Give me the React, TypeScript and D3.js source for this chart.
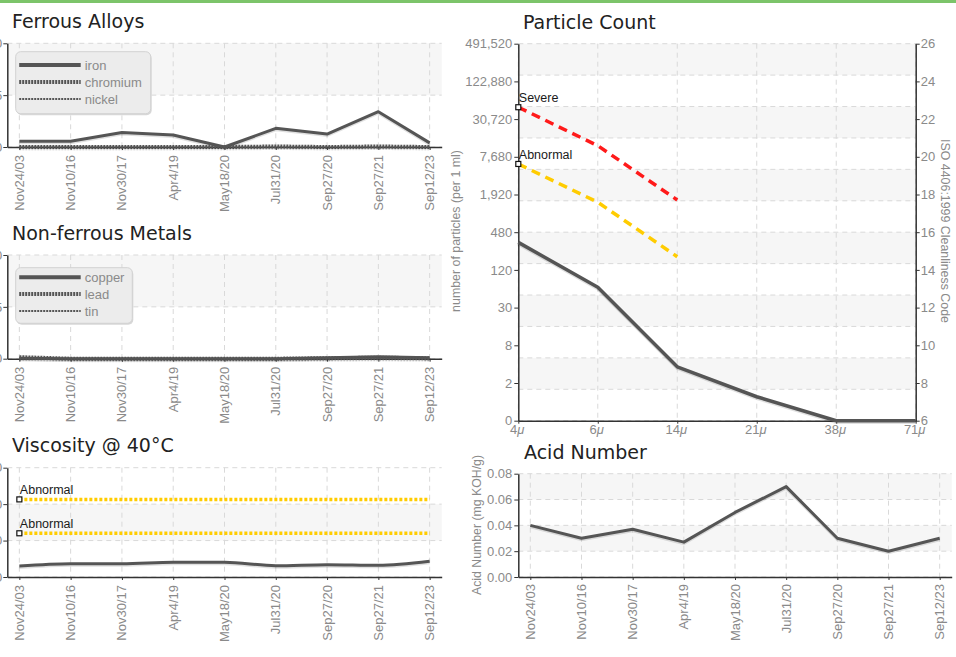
import React, { useEffect, useRef } from 'react'
import * as d3 from 'd3'

// sample dates shared by the trend charts
const dates = ["Nov24/03", "Nov10/16", "Nov30/17", "Apr4/19", "May18/20", "Jul31/20", "Sep27/20", "Sep27/21", "Sep12/23"]

// Ferrous Alloys
const iron = [0.55, 0.55, 1.4, 1.15, 0, 1.8, 1.25, 3.4, 0.4]
const chromium = [0, 0, 0, 0, 0, 0.05, 0, 0.05, 0]
const nickel = [0, 0, 0, 0, 0, 0, 0, 0, 0]

// Non-ferrous Metals
const copper = [0.05, 0, 0, 0, 0, 0, 0.1, 0.2, 0.1]
const lead = [0.15, 0, 0, 0, 0, 0, 0.05, 0.1, 0.05]
const tin = [0, 0, 0, 0, 0, 0, 0, 0, 0]

// Viscosity @ 40C
const viscosity = [15, 18.3, 18.3, 20.2, 20.2, 15.5, 16.9, 16, 21.5]
const viscosityLimits = [106.5, 60]

// Particle Count (values as ISO 4406 codes)
const sizes = ["4", "6", "14", "21", "38", "71"]
const particleCodes = [15.46, 13.08, 8.86, 7.27, 6, 6]
const severeCodes = [22.63, 20.59, 17.71]
const abnormalCodes = [19.62, 17.59, 14.7]
const isoCodes = [6, 8, 10, 12, 14, 16, 18, 20, 22, 24, 26]
const countLabels = ["0", "2", "8", "30", "120", "480", "1,920", "7,680", "30,720", "122,880", "491,520"]

// Acid Number
const acid = [0.04, 0.03, 0.037, 0.027, 0.05, 0.07, 0.03, 0.02, 0.03]
const acidTicks = [0, 0.02, 0.04, 0.06, 0.08]

const FONT = "'Liberation Sans', Arial, sans-serif"
const TITLE_FONT = "'DejaVu Sans', Verdana, sans-serif"
const GRAY = "#8a8a8a"
const DARK = "#555"
const AXIS = "#333"
const BAND = "#f6f6f6"
const GRID = "#d9d9d9"

function bands(g: any, ys: number[], x0: number, x1: number) {
    // ys sorted from bottom to top, every second band is shaded
    for (let i = 0; i < ys.length - 1; i++) {
        if (i % 2 === 1) {
            g.append("rect").attr("x", x0).attr("y", ys[i + 1]).attr("width", x1 - x0)
                .attr("height", ys[i] - ys[i + 1]).attr("fill", BAND)
        }
    }
    ys.forEach(y => {
        g.append("line").attr("x1", x0).attr("x2", x1).attr("y1", y).attr("y2", y)
            .attr("stroke", GRID).attr("stroke-dasharray", "5,4")
    })
}

function vgrid(g: any, xs: number[], y0: number, y1: number) {
    xs.forEach(x => {
        g.append("line").attr("x1", x).attr("x2", x).attr("y1", y0).attr("y2", y1)
            .attr("stroke", GRID).attr("stroke-dasharray", "5,4")
    })
}

function styleAxis(a: any) {
    a.select(".domain").attr("stroke", AXIS).attr("stroke-width", 1.5)
    a.selectAll(".tick line").attr("stroke", AXIS)
    a.selectAll("text").attr("fill", GRAY).style("font", "13px " + FONT)
}

function title(svg: any, x: number, y: number, t: string) {
    svg.append("text").attr("x", x).attr("y", y).text(t)
        .attr("fill", "#222").style("font", "19px " + TITLE_FONT)
}

function dateChart(svg: any, left: number, right: number, top: number, bottom: number, domain: number[], ticks: number[]) {
    const g = svg.append("g")
    const x = d3.scalePoint<string>().domain(dates).range([left, right]).padding(0.235)
    const y = d3.scaleLinear().domain(domain).range([bottom, top])
    bands(g, ticks.map(t => y(t)), left, right)
    vgrid(g, dates.map(d => x(d)!), top, bottom)

    const ya = g.append("g").attr("transform", `translate(${left},0)`)
        .call(d3.axisLeft(y).tickValues(ticks).tickSize(4).tickSizeOuter(0).tickPadding(1))
    styleAxis(ya)
    const xa = g.append("g").attr("transform", `translate(0,${bottom})`)
        .call(d3.axisBottom(x).tickSize(3).tickSizeOuter(0).tickFormat(() => ""))
    styleAxis(xa)

    dates.forEach(d => {
        g.append("text").attr("transform", `translate(${x(d)! + 4.5},${bottom + 8}) rotate(-90)`)
            .attr("text-anchor", "end").text(d)
            .attr("fill", GRAY).style("font", "13px " + FONT)
    })
    return { g, x, y }
}

function series(g: any, x: any, y: any, values: number[], width: number, dash: string | null, curve?: any) {
    const line = d3.line<number>().x((_, i) => x(dates[i])).y(d => y(d))
    if (curve) line.curve(curve)
    g.append("path").attr("d", line(values)).attr("fill", "none")
        .attr("stroke", "rgba(0,0,0,0.12)").attr("stroke-width", width)
        .attr("transform", "translate(0,1.5)")
        .attr("stroke-dasharray", dash)
    g.append("path").attr("d", line(values)).attr("fill", "none")
        .attr("stroke", DARK).attr("stroke-width", width)
        .attr("stroke-linejoin", "round")
        .attr("stroke-dasharray", dash)
}

function legend(g: any, x: number, y: number, w: number, h: number, names: string[], ys: number[]) {
    g.append("rect").attr("x", x + 1).attr("y", y + 1.5).attr("width", w).attr("height", h).attr("rx", 5)
        .attr("fill", "#d8d8d8")
    g.append("rect").attr("x", x).attr("y", y).attr("width", w).attr("height", h).attr("rx", 5)
        .attr("fill", "#ececec").attr("stroke", "#d2d2d2")
    const styles = [[4, null], [4, "2,1"], [2, "2,1"]]
    names.forEach((n, i) => {
        g.append("line").attr("x1", x + 3.5).attr("x2", x + 65).attr("y1", ys[i]).attr("y2", ys[i])
            .attr("stroke", DARK).attr("stroke-width", styles[i][0])
            .attr("stroke-dasharray", styles[i][1])
        g.append("text").attr("x", x + 69).attr("y", ys[i]).attr("dy", "0.35em").text(n)
            .attr("fill", GRAY).style("font", "13px " + FONT)
    })
}

function marker(g: any, x: number, y: number, label: string) {
    g.append("rect").attr("x", x - 2.5).attr("y", y - 2.5).attr("width", 5).attr("height", 5)
        .attr("fill", "#fff").attr("stroke", "#111").attr("stroke-width", 1.2)
    g.append("text").attr("x", x + 0.5).attr("y", y - 5).text(label)
        .attr("fill", "#1a1a1a").style("font", "12.5px " + FONT)
}

export default function App() {
    const svgRef = useRef<SVGSVGElement>(null)

    useEffect(() => {
        const svg = d3.select(svgRef.current)
        svg.selectAll("*").remove()

        svg.append("rect").attr("x", 0).attr("y", 0).attr("width", 956).attr("height", 3).attr("fill", "#7cc46a")

        // Ferrous Alloys
        title(svg, 12, 28, "Ferrous Alloys")
        const fa = dateChart(svg, 7.3, 441.7, 43.3, 147, [0, 10], [0, 5, 10])
        series(fa.g, fa.x, fa.y, iron, 3, null)
        series(fa.g, fa.x, fa.y, chromium, 4, "2,1")
        series(fa.g, fa.x, fa.y, nickel, 2, "2,1")
        legend(fa.g, 15.7, 51.7, 135, 62, ["iron", "chromium", "nickel"], [65, 82, 99])

        // Non-ferrous Metals
        title(svg, 12, 240, "Non-ferrous Metals")
        const nf = dateChart(svg, 7.3, 441.7, 255, 358.7, [0, 10], [0, 5, 10])
        series(nf.g, nf.x, nf.y, copper, 3, null)
        series(nf.g, nf.x, nf.y, lead, 4, "2,1")
        series(nf.g, nf.x, nf.y, tin, 2, "2,1")
        legend(nf.g, 15.7, 267.7, 116.6, 55.6, ["copper", "lead", "tin"], [277.3, 294, 311])

        // Viscosity
        title(svg, 12, 451.5, "Viscosity @ 40\u00b0C")
        const vc = dateChart(svg, 7.3, 441.7, 467.7, 577, [0, 150], [0, 50, 100, 150])
        viscosityLimits.forEach(v => {
            vc.g.append("line").attr("x1", vc.x(dates[0])!).attr("x2", vc.x(dates[dates.length - 1])!)
                .attr("y1", vc.y(v)).attr("y2", vc.y(v))
                .attr("stroke", "#ffcc00").attr("stroke-width", 3.5).attr("stroke-dasharray", "3,2")
            marker(vc.g, vc.x(dates[0])!, vc.y(v), "Abnormal")
        })
        series(vc.g, vc.x, vc.y, viscosity, 3, null, d3.curveMonotoneX)

        // Particle Count
        title(svg, 523, 29, "Particle Count")
        const pl = 518.3, pr = 915.7, pt = 43.7, pb = 420.7
        const pg = svg.append("g")
        const px = d3.scalePoint<string>().domain(sizes).range([pl, pr])
        const py = d3.scaleLinear().domain([6, 26]).range([pb, pt])
        const gridCodes = d3.range(13).map(i => 6 + i * 20 / 12)
        bands(pg, gridCodes.map(c => py(c)), pl, pr)
        vgrid(pg, sizes.map(s => px(s)!), pt, pb)
        const pla = pg.append("g").attr("transform", `translate(${pl},0)`)
            .call(d3.axisLeft(py).tickValues(isoCodes).tickSize(4).tickSizeOuter(0).tickPadding(2)
                .tickFormat((_, i) => countLabels[i]))
        styleAxis(pla)
        const pra = pg.append("g").attr("transform", `translate(${pr},0)`)
            .call(d3.axisRight(py).tickValues(isoCodes).tickSize(4).tickSizeOuter(0).tickPadding(1))
        styleAxis(pra)
        const pxa = pg.append("g").attr("transform", `translate(0,${pb})`)
            .call(d3.axisBottom(px).tickSize(3).tickSizeOuter(0).tickFormat(() => ""))
        styleAxis(pxa)
        sizes.forEach(s => {
            const t = pg.append("text").attr("x", px(s)! - 1).attr("y", 434).attr("text-anchor", "middle")
                .attr("fill", GRAY).style("font", "13px " + FONT)
            t.append("tspan").text(s)
            t.append("tspan").text("\u03bc").style("font-style", "italic")
        })
        pg.append("text").attr("transform", `translate(460,231) rotate(-90)`).attr("text-anchor", "middle")
            .text("number of particles (per 1 ml)").attr("fill", GRAY).style("font", "12.4px " + FONT)
        pg.append("text").attr("transform", `translate(941,231) rotate(90)`).attr("text-anchor", "middle")
            .text("ISO 4406:1999 Cleanliness Code").attr("fill", GRAY).style("font", "12.4px " + FONT)

        const pline = d3.line<number>().x((_, i) => px(sizes[i])!).y(d => py(d))
        pg.append("path").attr("d", pline(severeCodes)).attr("fill", "none")
            .attr("stroke", "#ff1a1a").attr("stroke-width", 3.5).attr("stroke-dasharray", "9,6")
        pg.append("path").attr("d", pline(abnormalCodes)).attr("fill", "none")
            .attr("stroke", "#ffcc00").attr("stroke-width", 3.5).attr("stroke-dasharray", "9,6")
        pg.append("path").attr("d", pline(particleCodes)).attr("fill", "none")
            .attr("stroke", "rgba(0,0,0,0.12)").attr("stroke-width", 3.5).attr("transform", "translate(0,1.5)")
        pg.append("path").attr("d", pline(particleCodes)).attr("fill", "none")
            .attr("stroke", DARK).attr("stroke-width", 3.5).attr("stroke-linejoin", "round")
        marker(pg, pl, py(severeCodes[0]), "Severe")
        marker(pg, pl, py(abnormalCodes[0]), "Abnormal")

        // Acid Number
        title(svg, 524, 459, "Acid Number")
        const al = 518.3, ar = 951.7, at = 473.7, ab = 577
        const ag = svg.append("g")
        const ax = d3.scalePoint<string>().domain(dates).range([al, ar]).padding(0.235)
        const ay = d3.scaleLinear().domain([0, 0.08]).range([ab, at])
        bands(ag, acidTicks.map(t => ay(t)), al, ar)
        vgrid(ag, dates.map(d => ax(d)!), at, ab)
        const aya = ag.append("g").attr("transform", `translate(${al},0)`)
            .call(d3.axisLeft(ay).tickValues(acidTicks).tickSize(4).tickSizeOuter(0).tickPadding(2)
                .tickFormat(d3.format(".2f")))
        styleAxis(aya)
        const axa = ag.append("g").attr("transform", `translate(0,${ab})`)
            .call(d3.axisBottom(ax).tickSize(3).tickSizeOuter(0).tickFormat(() => ""))
        styleAxis(axa)
        dates.forEach(d => {
            ag.append("text").attr("transform", `translate(${ax(d)! + 4.5},${ab + 7}) rotate(-90)`)
                .attr("text-anchor", "end").text(d)
                .attr("fill", GRAY).style("font", "13px " + FONT)
        })
        ag.append("text").attr("transform", `translate(481,525) rotate(-90)`).attr("text-anchor", "middle")
            .text("Acid Number (mg KOH/g)").attr("fill", GRAY).style("font", "12.3px " + FONT)
        const aline = d3.line<number>().x((_, i) => ax(dates[i])!).y(d => ay(d))
        ag.append("path").attr("d", aline(acid)).attr("fill", "none")
            .attr("stroke", "rgba(0,0,0,0.12)").attr("stroke-width", 3).attr("transform", "translate(0,1.5)")
        ag.append("path").attr("d", aline(acid)).attr("fill", "none")
            .attr("stroke", DARK).attr("stroke-width", 3).attr("stroke-linejoin", "round")
    }, [])

    return (
        <svg ref={svgRef} width={956} height={657}
            style={{ position: "absolute", left: 0, top: 0, background: "#fff" }} />
    )
}
